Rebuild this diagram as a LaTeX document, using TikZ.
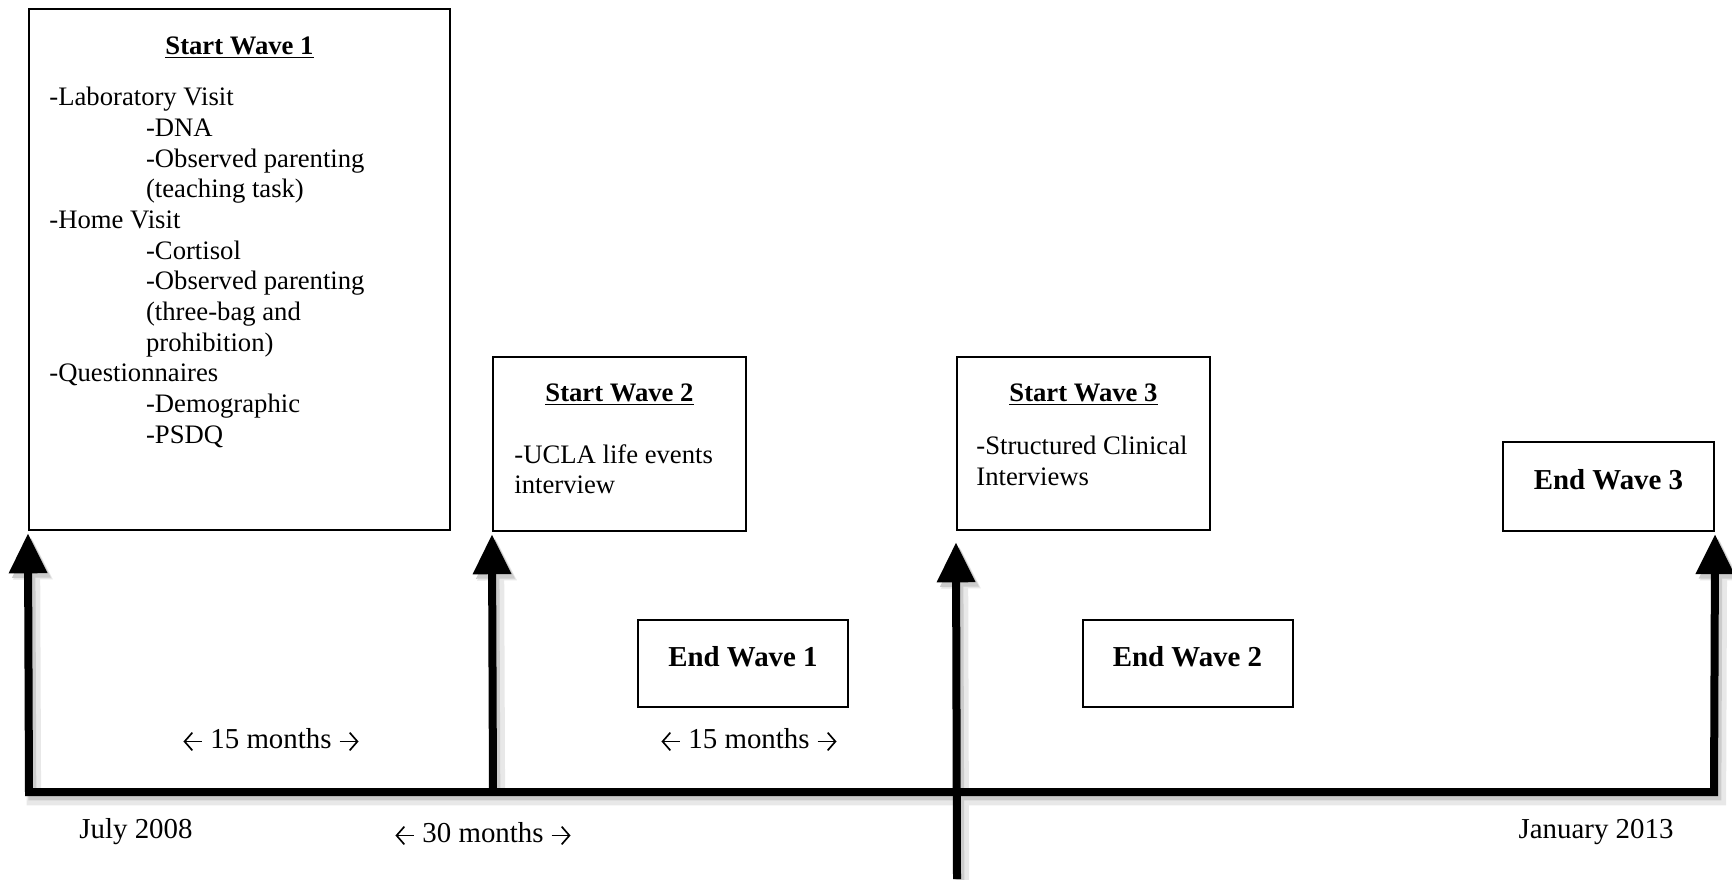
\documentclass[tikz,border=0pt]{standalone}
\usepackage{fontspec}
\setmainfont{Liberation Serif}
\usetikzlibrary{arrows.meta,positioning}
\newcommand{\lto}{\tikz[baseline=-3.3pt]\draw[line width=0.75pt,{Straight Barb[length=3.5pt,width=8pt]}-] (0,0) -- (8.5pt,0);}
\newcommand{\rto}{\tikz[baseline=-3.3pt]\draw[line width=0.75pt,-{Straight Barb[length=3.5pt,width=8pt]}] (0,0) -- (8.5pt,0);}

\begin{document}
\begin{tikzpicture}[x=0.45pt,y=-0.45pt,font=\fontsize{12}{13.8}\selectfont]
  \tikzstyle{box}=[rectangle,draw=black,line width=0.9pt,inner sep=0pt]
  \tikzstyle{heading}=[font=\fontsize{12}{14}\selectfont\bfseries]
  \tikzstyle{items}=[align=left,inner sep=0pt,anchor=north west]
  \tikzstyle{endbox}=[box,font=\fontsize{13}{15}\selectfont\bfseries,
                      minimum width=94.5pt,minimum height=39.5pt,text depth=6pt]
  \tikzstyle{label}=[font=\fontsize{13}{15}\selectfont]
  \tikzstyle{tick}=[line width=3.6pt,-{Triangle[length=18pt,width=16.5pt]}]
  \tikzstyle{haze}=[draw=black!9,line width=6.5pt,transform canvas={shift={(2.2pt,-2.8pt)}}]
  \tikzstyle{ghost}=[draw=black!20,transform canvas={shift={(1.5pt,-2pt)}}]
  \tikzstyle{ink}=[draw=black]
  \useasboundingbox (0,0) rectangle (1732,879);

  % start of each wave
  \node [box,minimum width=189.5pt,minimum height=234.5pt] (sw1) at (239.5,269.5) {};
  \node [heading] (sw1h) at (239.5,48) {\underline{Start Wave 1}};
  \node [items] (sw1t) at (49,87) {-Laboratory Visit\\
    \hspace*{43.5pt}-DNA\\
    \hspace*{43.5pt}-Observed parenting\\
    \hspace*{43.5pt}(teaching task)\\
    -Home Visit\\
    \hspace*{43.5pt}-Cortisol\\
    \hspace*{43.5pt}-Observed parenting\\
    \hspace*{43.5pt}(three-bag and\\
    \hspace*{43.5pt}prohibition)\\
    -Questionnaires\\
    \hspace*{43.5pt}-Demographic\\
    \hspace*{43.5pt}-PSDQ};

  \node [box,minimum width=113.9pt,minimum height=78.3pt] (sw2) at (619.5,444) {};
  \node [heading] (sw2h) at (619.5,395) {\underline{Start Wave 2}};
  \node [items] (sw2t) at (514,444) {-UCLA life events\\interview};

  \node [box,minimum width=113.9pt,minimum height=78pt] (sw3) at (1083.5,443.5) {};
  \node [heading] (sw3h) at (1083.5,395) {\underline{Start Wave 3}};
  \node [items] (sw3t) at (976,436) {-Structured Clinical\\Interviews};

  % end of each wave
  \node [endbox] (ew1) at (743,663.5) {End Wave 1};
  \node [endbox] (ew2) at (1187.5,663.5) {End Wave 2};
  \node [endbox,minimum width=95pt,minimum height=40pt] (ew3) at (1608.5,486.5) {End Wave 3};

  % time line, shadows first
  \coordinate (t0) at (29,792);
  \coordinate (t1) at (493,792);
  \coordinate (t2) at (957,879);
  \coordinate (t3) at (1714,792);
  \foreach \pass in {haze,ghost,ink} {
    \draw [tick,\pass,{Triangle[length=18pt,width=16.5pt]}-{Triangle[length=18pt,width=16.5pt]},
           shorten <=1pt,shorten >=1pt]
      (sw1.south west) -- (t0) -- (t3) -- (ew3.south east);
    \draw [tick,\pass,shorten >=1pt] (t1) -- (sw2.south west);
    \draw [tick,\pass,shorten >=5pt] (t2) -- (sw3.south west);
  }

  \node [label] (gap1) at (271,740) {\lto\ 15 months \rto};
  \node [label] (gap2) at (749,740) {\lto\ 15 months \rto};
  \node [label] (gap3) at (483,834) {\lto\ 30 months \rto};
  \node [label] (begin) at (136,832) {July 2008};
  \node [label] (finish) at (1596,832) {January 2013};
\end{tikzpicture}
\end{document}
